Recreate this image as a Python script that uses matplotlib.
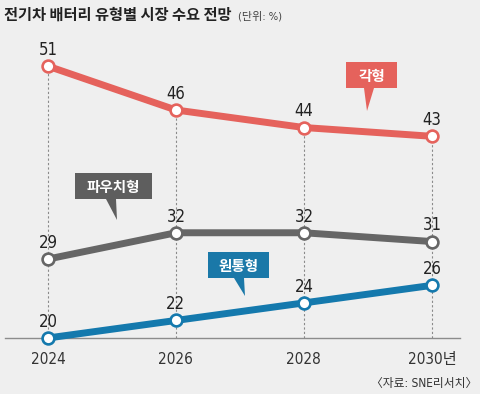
import matplotlib.pyplot as plt
from matplotlib import font_manager
from matplotlib.patches import Polygon
from matplotlib.transforms import Affine2D

years = [2024, 2026, 2028, 2030]
year_labels = ['2024', '2026', '2028', '2030년']
prismatic = [51, 46, 44, 43]   # 각형
pouch = [29, 32, 32, 31]       # 파우치형
cylinder = [20, 22, 24, 26]    # 원통형

red = '#e5625c'
grey = '#666666'
blue = '#1479ad'
bg = '#efefef'

# narrow font for the numbers, whichever is installed
fonts = font_manager.fontManager.ttflist
names = {f.name for f in fonts}
if 'Liberation Sans Narrow' in names:
    num_font, stretch = 'Liberation Sans Narrow', 'normal'
elif any(f.name == 'DejaVu Sans' and f.stretch == 'condensed' for f in fonts):
    num_font, stretch = 'DejaVu Sans', 'condensed'
else:
    num_font, stretch = 'Liberation Sans', 'normal'
narrow = [num_font, 'Noto Sans CJK KR']
kr = ['Noto Sans CJK KR', 'DejaVu Sans']

fig = plt.figure(figsize=(4.8, 3.94), dpi=100, facecolor=bg)
# pixel coords (origin top left) for title, source and callouts
px = Affine2D().scale(1 / 480, -1 / 394).translate(0, 1) + fig.transFigure

ax = fig.add_axes([5 / 480, 56 / 394, 455 / 480, 298 / 394])
ax.set_facecolor(bg)
ax.set_xlim(2023.33, 2030.44)
ax.set_ylim(20, 53.98)
for s in ['top', 'left', 'right']:
    ax.spines[s].set_visible(False)
ax.spines['bottom'].set_color('#8c8c8c')
ax.spines['bottom'].set_linewidth(1)
ax.set_yticks([])
ax.set_xticks(years)
ax.set_xticklabels(year_labels, family=narrow, fontstretch=stretch,
                   fontsize=11, color='#333333')
ax.tick_params(axis='x', length=0, pad=10)

tops = [max(a, b, c) for a, b, c in zip(prismatic, pouch, cylinder)]
ax.vlines(years, 20, tops, colors='#8a8a8a', linewidth=0.8,
          linestyles=(0, (2, 2)), zorder=1)

for vals, col in [(prismatic, red), (pouch, grey), (cylinder, blue)]:
    ax.plot(years, vals, color=col, linewidth=5, solid_capstyle='round',
            marker='o', markersize=8.5, markerfacecolor='white',
            markeredgecolor=col, markeredgewidth=1.9, zorder=3, clip_on=False)
    for x, v in zip(years, vals):
        ax.annotate(str(v), (x, v), xytext=(0, 8), textcoords='offset points',
                    ha='center', va='baseline', fontsize=12,
                    family=narrow, fontstretch=stretch, color='#222222')

# callout boxes: text, colour, box (x0, x1, y0, y1), pointer base (x0, x1), tip
callouts = [
    ('각형', red, (346, 397, 62, 88), (364, 374), (367, 111)),
    ('파우치형', '#5e5e5e', (75, 152, 173, 199), (106, 116), (117, 220)),
    ('원통형', '#1a78a8', (208, 269, 252, 278), (234, 244), (245, 296)),
]
for text, col, (x0, x1, y0, y1), (b0, b1), (tx, ty) in callouts:
    shape = [(x0, y0), (x1, y0), (x1, y1), (b1, y1), (tx, ty), (b0, y1), (x0, y1)]
    fig.patches.append(Polygon(shape, closed=True, transform=px,
                               facecolor=col, edgecolor='none', zorder=5))
    fig.text((x0 + x1) / 2, (y0 + y1) / 2 + 1, text, transform=px,
             ha='center', va='center', color='white', fontsize=10.5,
             fontweight='bold', family=kr, zorder=6)

fig.text(4, 15, '전기차 배터리 유형별 시장 수요 전망', transform=px,
         ha='left', va='center', fontsize=11, fontweight='bold',
         family=kr, color='#222222')
fig.text(238, 16, '(단위: %)', transform=px, ha='left', va='center',
         fontsize=8, family=narrow, fontstretch=stretch, color='#444444')
fig.text(477, 383, '〈자료: SNE리서치〉', transform=px, ha='right',
         va='center', fontsize=8.5, family=narrow, fontstretch=stretch,
         color='#333333')

fig.savefig('out.png', dpi=100, facecolor=bg)
